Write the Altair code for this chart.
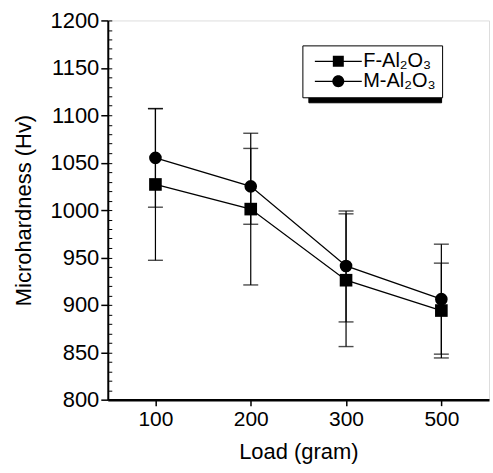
import altair as alt
import pandas as pd

loads = ["100", "200", "300", "500"]
series = ["F-Al₂O₃", "M-Al₂O₃"]
f_vals = [1027, 1001, 926, 894]
f_lo = [947, 921, 856, 844]
f_hi = [1107, 1081, 996, 944]
m_vals = [1055, 1025, 941, 906]
m_lo = [1003, 985, 882, 848]
m_hi = [1107, 1065, 999, 964]
y_ticks = [800, 850, 900, 950, 1000, 1050, 1100, 1150, 1200]
y_minor = list(range(800, 1201, 10))

rows = []
for s, vals, lo, hi in [(series[0], f_vals, f_lo, f_hi), (series[1], m_vals, m_lo, m_hi)]:
    for l, v, a, b in zip(loads, vals, lo, hi):
        rows.append({"load": l, "series": s, "value": v, "lo": a, "hi": b})
df = pd.DataFrame(rows)

FONT = "Liberation Sans"
yscale = alt.Scale(domain=[800, 1200], nice=False, zero=False)
x = alt.X("load:O", sort=loads, scale=alt.Scale(type="point", padding=0.5),
          axis=alt.Axis(title="Load (gram)", labelAngle=0, labelFontSize=21, titleFontSize=22,
                        labelFont=FONT, titleFont=FONT, labelColor="black", titleColor="black",
                        titleFontWeight="normal",
                        tickColor="black", tickSize=6, tickWidth=1.5, domainColor="black",
                        domainWidth=2.5, labelPadding=3, titlePadding=12))

base = alt.Chart(df)

y_main = alt.Y("value:Q", scale=yscale,
               axis=alt.Axis(title="Microhardness (Hv)", values=y_ticks, format="d",
                             labelFontSize=22, titleFontSize=22, labelFont=FONT, titleFont=FONT,
                             titleFontWeight="normal",
                             labelColor="black", titleColor="black", tickColor="black",
                             tickSize=7, tickWidth=1.5, domainColor="black", domainWidth=2,
                             grid=False, labelPadding=2, titlePadding=14))

lines = base.mark_line(color="black", strokeWidth=1.3).encode(x=x, y=y_main, detail="series:N")

minor = base.mark_point(opacity=0).encode(
    x=x, y=alt.Y("value:Q", scale=yscale,
                  axis=alt.Axis(values=y_minor, labels=False, domain=False, title=None,
                                grid=False, offset=-4, tickSize=4, tickWidth=1,
                                tickColor="black", orient="left")))

rules = base.mark_rule(color="black", strokeWidth=1.2).encode(
    x=x, y=alt.Y("lo:Q", scale=yscale, axis=None), y2="hi:Q")
cap_lo = base.mark_tick(color="black", size=15, thickness=1.4).encode(
    x=x, y=alt.Y("lo:Q", scale=yscale, axis=None))
cap_hi = base.mark_tick(color="black", size=15, thickness=1.4).encode(
    x=x, y=alt.Y("hi:Q", scale=yscale, axis=None))

points = base.mark_point(filled=True, color="black", size=160, opacity=1).encode(
    x=x, y=alt.Y("value:Q", scale=yscale, axis=None),
    shape=alt.Shape("series:N", scale=alt.Scale(domain=series, range=["square", "circle"]),
                    legend=None))

leg_common = dict(title=None, orient="none", padding=6, labelFont=FONT, labelFontSize=20,
                  symbolSize=400, symbolOpacity=1, symbolFillColor="black",
                  symbolStrokeColor="black", symbolStrokeWidth=0,
                  symbolOffset=20, rowPadding=0)

leg_paths = [
    "M-2.35,-0.06H2.35V0.06H-2.35Z M-0.55,-0.55H0.55V0.55H-0.55Z",
    "M-2.35,-0.06H2.35V0.06H-2.35Z M0.6,0A0.6,0.6,0,1,1,-0.6,0A0.6,0.6,0,1,1,0.6,0Z",
]
legend_layer = base.mark_point(filled=True, color="black", opacity=0).encode(
    x=x, y=alt.Y("value:Q", scale=yscale, axis=None),
    shape=alt.Shape("series:N", scale=alt.Scale(domain=series, range=leg_paths),
                    legend=alt.Legend(legendX=195, legendY=25, strokeColor="black",
                                      fillColor="white", labelColor="black", zindex=2,
                                      labelOffset=15, **leg_common)))

shadow_layer = base.mark_point(filled=True, opacity=0).encode(
    x=x, y=alt.Y("value:Q", scale=yscale, axis=None),
    color=alt.Color("series:N", scale=alt.Scale(domain=series, range=["black", "black"]),
                    legend=alt.Legend(legendX=201, legendY=30, strokeColor="black",
                                      fillColor="black", labelColor="black", zindex=1,
                                      labelExpr="''", labelOffset=81, **leg_common)))

chart = alt.layer(lines, minor, rules, cap_lo, cap_hi, points, shadow_layer, legend_layer).resolve_scale(
    shape="independent"
).resolve_axis(y="independent").properties(width=382, height=380).configure_view(
    stroke="black", strokeWidth=1.5).configure(
    background="white", padding={"left": 13, "top": 9, "right": 4, "bottom": 5})

chart.save("out.html", embed_options={"renderer": "svg", "actions": False})
